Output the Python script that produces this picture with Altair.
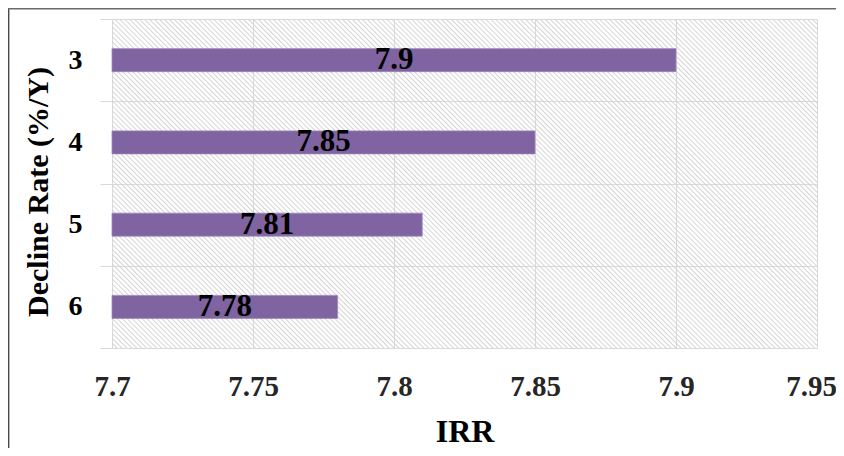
import altair as alt
import pandas as pd

# ---- data ----
rates = ["3", "4", "5", "6"]
irr = [7.9, 7.85, 7.81, 7.78]
x_ticks = [7.7, 7.75, 7.8, 7.85, 7.9, 7.95]
x_min, x_max = 7.7, 7.95

df = pd.DataFrame({"rate": rates, "irr": irr})

W, H = 705, 329
PAD_R, PAD_B = 19, 100
FONT = "Liberation Serif"
GRID = "#d9d9d9"
BAR = "#8064A2"

# ---- diagonal hatch as a many-stop linear gradient (style only) ----
n = 209
gray = "rgba(212,212,212,1)"
clear = "rgba(212,212,212,0)"
stops = []
for k in range(n):
    o = k / n
    stops.append(alt.GradientStop(color=gray, offset=round(o, 6)))
    stops.append(alt.GradientStop(color=clear, offset=round(o + 0.28 / n, 6)))
    stops.append(alt.GradientStop(color=clear, offset=round(o + 0.72 / n, 6)))
stops.append(alt.GradientStop(color=gray, offset=1))
hatch_grad = alt.LinearGradient(
    gradient="linear", stops=stops, x1=0, y1=1, x2=1.2044, y2=0.438
)

xscale = alt.Scale(domain=[x_min, x_max], nice=False, zero=False)
yscale = alt.Scale(paddingInner=0, paddingOuter=0)

x_axis = alt.Axis(
    values=x_ticks, format="~g", grid=True, gridColor=GRID, gridWidth=1,
    ticks=False, tickSize=0, domain=False,
    labelFont=FONT, labelFontSize=29, labelFontWeight="bold", labelColor="#262626",
    labelBaseline="alphabetic", labelPadding=47, labelFlush=False,
    labelOffset={"condition": {"test": "datum.value >= 7.949", "value": -6}, "value": 0},
    title="IRR", titleFont=FONT, titleFontSize=32, titleFontWeight="bold",
    titleColor="black", titleX=W / 2, titleY=93, titleBaseline="alphabetic",
    titleAlign="center",
)
y_axis = alt.Axis(
    tickBand="extent", grid=True, gridColor=GRID, gridWidth=1,
    ticks=True, tickSize=12, tickColor=GRID, tickWidth=1, domain=False,
    labelFont=FONT, labelFontSize=28, labelFontWeight="bold", labelColor="black",
    labelPadding=18, labelAngle=0,
    title="Decline Rate (%/Y)", titleFont=FONT, titleFontSize=30,
    titleFontWeight="bold", titleColor="black", titleAngle=270,
    titleX=-65, titleY=H / 2 + 8, titleBaseline="alphabetic", titleAlign="center",
)

one = pd.DataFrame({"d": [0]})

hatch = alt.Chart(one).mark_rect(fill=hatch_grad, strokeWidth=0).encode(
    x=alt.value(0), x2=alt.value(W), y=alt.value(0), y2=alt.value(H)
)

# outer frame: only the left and top edges fall inside the window
frame_left = alt.Chart(one).mark_rule(stroke="#4a4a4a", strokeWidth=1.6).encode(
    x=alt.value(-103.4), y=alt.value(-11), y2=alt.value(H + PAD_B)
)
frame_top = alt.Chart(one).mark_rule(stroke="#6a6a6a", strokeWidth=1.6).encode(
    y=alt.value(-10.4), x=alt.value(-104), x2=alt.value(W + PAD_R)
)

bars = alt.Chart(df).mark_bar(size=23, color=BAR, stroke="#9c86bd", strokeWidth=0.8).encode(
    x=alt.X("irr:Q", scale=xscale, axis=x_axis),
    x2=alt.datum(x_min),
    y=alt.Y("rate:N", sort=rates, scale=yscale, axis=y_axis),
)

labels = alt.Chart(df).transform_calculate(
    mid=f"(datum.irr + {x_min}) / 2"
).mark_text(
    font=FONT, fontSize=31, fontWeight="bold", color="black", baseline="middle",
    align="center", dy=0
).encode(
    x=alt.X("mid:Q", scale=xscale),
    y=alt.Y("rate:N", sort=rates, scale=yscale),
    text=alt.Text("irr:Q", format="~g"),
)

chart = alt.layer(hatch, bars, labels, frame_left, frame_top).properties(
    width=W, height=H,
    autosize=alt.AutoSizeParams(type="none"),
    padding={"left": 104, "top": 11, "right": PAD_R, "bottom": PAD_B},
).configure_view(stroke=GRID, strokeWidth=1).configure(background="white")

chart.save("out.html", embed_options={"renderer": "svg", "actions": False})
